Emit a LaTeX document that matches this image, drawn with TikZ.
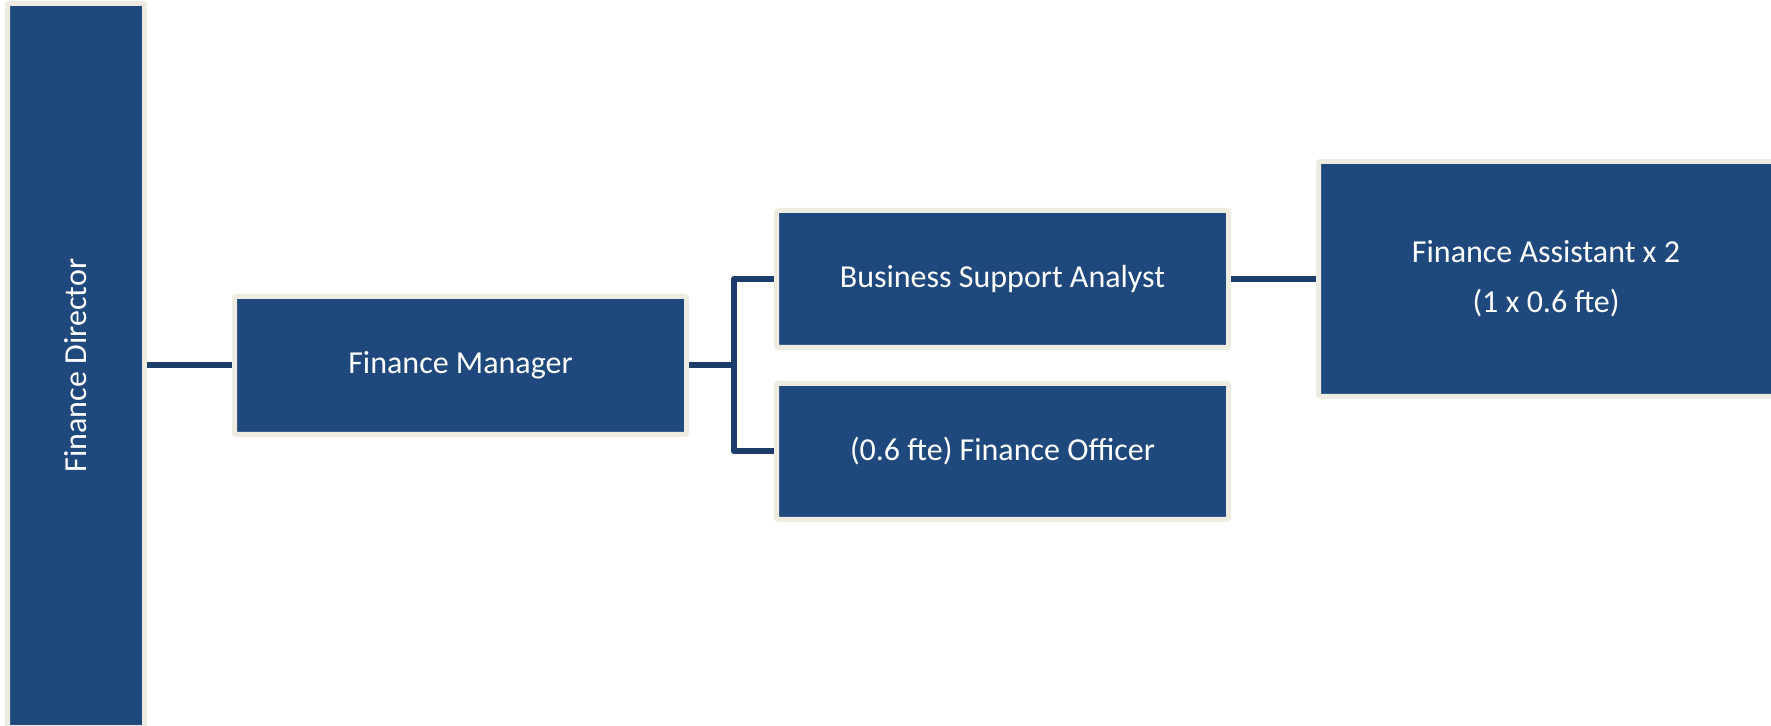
\documentclass[tikz,border=0pt]{standalone}
\usepackage{fontspec}
\setmainfont{Carlito}
\definecolor{boxblue}{HTML}{1F497D}
\definecolor{boxrim}{HTML}{EEECE1}
\definecolor{linkblue}{HTML}{1D3E6C}
\begin{document}
\begin{tikzpicture}
			[x=0.5pt,y=-0.5pt,
			box/.style={rectangle,draw=boxrim,fill=boxblue,line width=2.5pt,rounded corners=1pt,inner sep=0pt,
				text=white,font=\fontsize{16}{25}\selectfont,align=center},
			link/.style={draw=linkblue,line width=3pt,line join=round}]
			\useasboundingbox (0,0) rectangle (1771,726);
			\clip (0,0) rectangle (1771,726);
			\node[box,name=director,rotate=90,minimum width=362pt,minimum height=68.5pt] at (76,365.5) {Finance Director};
			\node[box,name=manager,minimum width=226pt,minimum height=69pt] at (460.5,365.5) {Finance Manager};
			\node[box,name=analyst,minimum width=226pt,minimum height=68.5pt] at (1002.5,279) {Business Support Analyst};
			\node[box,name=officer,minimum width=226pt,minimum height=68pt] at (1002.5,451.5) {(0.6 fte) Finance Officer};
			\node[box,name=assistant,minimum width=227.5pt,minimum height=117.5pt] at (1546,279) {Finance Assistant x 2\\(1 x 0.6 fte)};
			\draw[link](director)--(manager);
			\draw[link](manager.east)--++(45,0)|-(analyst.west);
			\draw[link](manager.east)--++(45,0)|-(officer.west);
			\draw[link](analyst)--(assistant);
		\end{tikzpicture}
\end{document}
